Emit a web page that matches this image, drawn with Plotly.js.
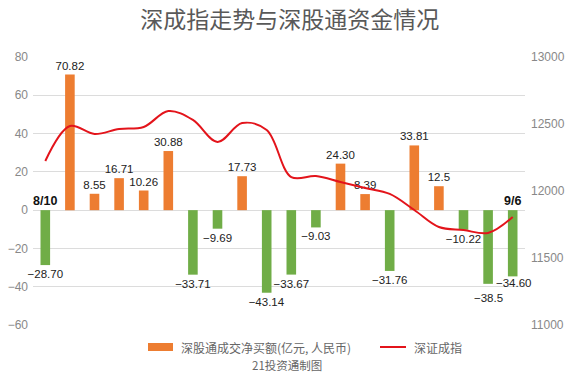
<!DOCTYPE html>
<html>
<head>
<meta charset="utf-8">
<script src="https://cdn.plot.ly/plotly-3.0.1.min.js"></script>
<style>html,body{margin:0;padding:0;background:#fff;}#chart{width:567px;height:378px;}</style>
</head>
<body>
<div id="chart"></div>
<script>
// Trading days 8/10 .. 9/6
const dates = ['8/10','8/11','8/12','8/15','8/16','8/17','8/18','8/19','8/22','8/23',
               '8/24','8/25','8/26','8/29','8/30','8/31','9/1','9/2','9/5','9/6'];
const netBuy = [-28.70, 70.82, 8.55, 16.71, 10.26, 30.88, -33.71, -9.69, 17.73, -43.14,
                -33.67, -9.03, 24.30, 8.39, -31.76, 33.81, 12.5, -10.22, -38.5, -34.60];
const netBuyLabels = ['\u221228.70','70.82','8.55','16.71','10.26','30.88','\u221233.71','\u22129.69','17.73','\u221243.14',
                      '\u221233.67','\u22129.03','24.30','8.39','\u221231.76','33.81','12.5','\u221210.22','\u221238.5','\u221234.60'];
const szIndex = [12224, 12485, 12425, 12463, 12478, 12597, 12530, 12366, 12507, 12455,
                 12104, 12112, 12067, 12022, 11978, 11858, 11731, 11709, 11687, 11806];
const leftTicks = [-60, -40, -20, 0, 20, 40, 60, 80];
const rightTicks = [11000, 11500, 12000, 12500, 13000];
const barName = '深股通成交净买额(亿元, 人民币)';
const lineName = '深证成指';
const titleText = '深成指走势与深股通资金情况';
const sourceText = '21投资通制图';

const ORANGE = '#ED7D31', GREEN = '#70AD47', RED = '#E3141B';
const FONT = 'Liberation Sans, Arial, Noto Sans CJK SC, sans-serif';
const CJK = 'Noto Sans CJK SC, Liberation Sans, sans-serif';

const xIdx = dates.map((d, i) => i);
const lastIdx = dates.length - 1;
const prevIdx = lastIdx - 1;

const bars = {
  type: 'bar', x: xIdx, y: netBuy, yaxis: 'y', name: barName,
  marker: {color: netBuy.map(v => v >= 0 ? ORANGE : GREEN)},
  width: 0.39,
  // the two crowded last labels are placed as annotations below
  text: netBuyLabels.map((t, i) => i >= prevIdx ? '' : t),
  textposition: 'outside', cliponaxis: false, constraintext: 'none',
  textfont: {family: FONT, size: 11.5, color: '#222'},
  showlegend: false, hoverinfo: 'skip'
};
const line = {
  type: 'scatter', mode: 'lines', x: xIdx, y: szIndex, yaxis: 'y2', name: lineName,
  line: {color: RED, width: 2, shape: 'spline', smoothing: 1},
  showlegend: false, hoverinfo: 'skip'
};

const layout = {
  width: 567, height: 378,
  margin: {l: 33, r: 42, t: 57, b: 53},
  paper_bgcolor: '#fff', plot_bgcolor: '#fff',
  font: {family: FONT, color: '#888'},
  title: {text: titleText, x: 0.511, xanchor: 'center', y: 0.947, yanchor: 'middle',
          yref: 'container', font: {family: CJK, size: 23, color: '#595959'}},
  xaxis: {range: [-0.5, 19.5], showticklabels: false, showgrid: false, zeroline: false,
          ticks: '', showline: false, fixedrange: true},
  yaxis: {range: [-60, 80], tickvals: leftTicks, showgrid: true, gridcolor: '#dcdcdc', gridwidth: 1,
          zeroline: true, zerolinecolor: '#dcdcdc', zerolinewidth: 1, ticks: '',
          tickfont: {family: FONT, size: 12, color: '#888'}, ticklabelstandoff: 4, showline: false},
  yaxis2: {range: [11000, 13000], tickvals: rightTicks, tickformat: 'd', overlaying: 'y', side: 'right',
           showgrid: false, zeroline: false, ticks: '', ticklabelstandoff: 5,
           tickfont: {family: FONT, size: 12, color: '#888'}, showline: false},
  bargap: 0.6,
  showlegend: false,
  shapes: [
    {type: 'rect', xref: 'paper', yref: 'paper', x0: 0.2337, x1: 0.2846, y0: -0.097, y1: -0.0672,
     fillcolor: ORANGE, line: {width: 0}},
    {type: 'line', xref: 'paper', yref: 'paper', x0: 0.7053, x1: 0.7581, y0: -0.0821, y1: -0.0821,
     line: {color: RED, width: 2}}
  ],
  annotations: [
    {x: prevIdx, y: netBuy[prevIdx], xref: 'x', yref: 'y', text: netBuyLabels[prevIdx], showarrow: false,
     xanchor: 'center', yanchor: 'top', yshift: -6, font: {family: FONT, size: 11.5, color: '#222'}},
    {x: lastIdx, y: netBuy[lastIdx], xref: 'x', yref: 'y', text: netBuyLabels[lastIdx], showarrow: false,
     xanchor: 'center', yanchor: 'top', xshift: 1, yshift: 1, font: {family: FONT, size: 11.5, color: '#222'}},
    {x: 0, y: 0, xref: 'x', yref: 'y', text: '<b>' + dates[0] + '</b>', showarrow: false,
     yanchor: 'bottom', yshift: 0, font: {family: FONT, size: 12.5, color: '#111'}},
    {x: lastIdx, y: 0, xref: 'x', yref: 'y', text: '<b>' + dates[lastIdx] + '</b>', showarrow: false,
     yanchor: 'bottom', yshift: 0, font: {family: FONT, size: 12.5, color: '#111'}},
    {x: 0.2967, y: -0.0821, xref: 'paper', yref: 'paper', text: barName, showarrow: false,
     xanchor: 'left', yanchor: 'middle', font: {family: CJK, size: 12, color: '#666'}},
    {x: 0.7703, y: -0.0821, xref: 'paper', yref: 'paper', text: lineName, showarrow: false,
     xanchor: 'left', yanchor: 'middle', font: {family: CJK, size: 12, color: '#666'}},
    {x: 0.5163, y: -0.1493, xref: 'paper', yref: 'paper', text: sourceText, showarrow: false,
     xanchor: 'center', yanchor: 'middle', font: {family: CJK, size: 11.5, color: '#666'}}
  ]
};

Plotly.newPlot('chart', [bars, line], layout, {staticPlot: true, displayModeBar: false});
</script>
</body>
</html>
